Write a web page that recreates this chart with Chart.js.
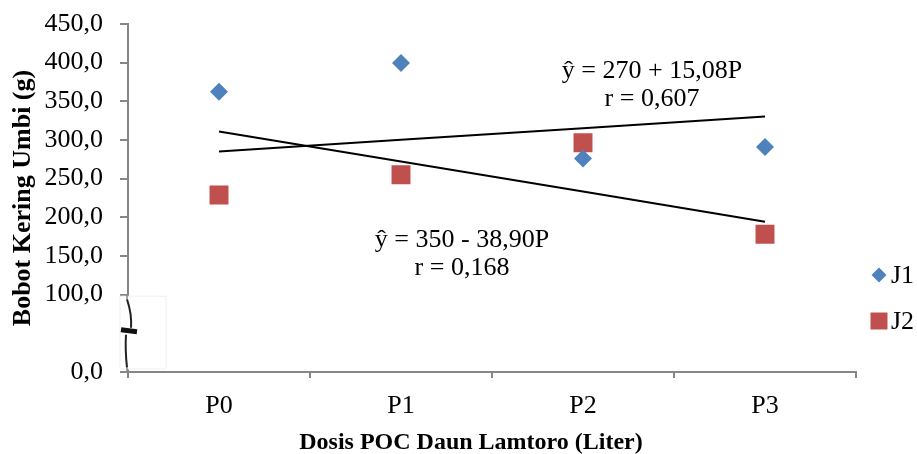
<!DOCTYPE html>
<html>
<head>
<meta charset="utf-8">
<script src="https://cdn.jsdelivr.net/npm/chart.js@4.4.0/dist/chart.umd.min.js"></script>
<style>
  html, body { margin: 0; padding: 0; background: #fff; }
  #wrap { width: 917px; height: 454px; }
</style>
</head>
<body>
<div id="wrap"><canvas id="bobotChart"></canvas></div>
<script>
// data
const doses = ["P0", "P1", "P2", "P3"];
const j1Values = [362.5, 399.5, 276.0, 291.0];
const j2Values = [229.0, 255.0, 296.5, 178.0];
// regression lines (values at P0..P3)
const trendJ1 = [285.1, 300.2, 315.2, 330.3];
const trendJ2 = [311.1, 272.2, 233.3, 194.4];
const yTicks = [0, 100, 150, 200, 250, 300, 350, 400, 450];

const serif = "'Liberation Serif', 'Times New Roman', serif";
const axisGray = "#868686";

// draws equations, x title, custom legend and the axis break mark
const extras = {
  id: "extras",
  afterDraw(chart) {
    const { ctx, chartArea, scales } = chart;
    const x = scales.x, y = scales.y;
    ctx.save();

    // axis break between 0 and 100
    const bx = chartArea.left;
    const by = y.getPixelForValue(52);
    const top = y.getPixelForValue(98), bot = y.getPixelForValue(4);
    ctx.fillStyle = "#fff";
    ctx.fillRect(bx - 8, top, 46, bot - top);
    ctx.strokeStyle = "#f0f0f0";
    ctx.lineWidth = 1;
    ctx.strokeRect(bx - 8, top, 46, bot - top);
    ctx.strokeStyle = "#888";
    ctx.lineWidth = 1.5;
    ctx.beginPath();
    ctx.moveTo(bx - 1, y.getPixelForValue(100));
    ctx.lineTo(bx - 1, y.getPixelForValue(94));
    ctx.moveTo(bx - 1, y.getPixelForValue(6));
    ctx.lineTo(bx - 1, y.getPixelForValue(0));
    ctx.stroke();
    ctx.strokeStyle = "#222";
    ctx.lineWidth = 2;
    ctx.beginPath();
    ctx.moveTo(bx - 1, y.getPixelForValue(94));
    ctx.quadraticCurveTo(bx + 4, by - 18, bx + 3, by - 4);
    ctx.stroke();
    ctx.strokeStyle = "#111";
    ctx.lineWidth = 5;
    ctx.beginPath();
    ctx.moveTo(bx - 7, by - 2);
    ctx.lineTo(bx + 9, by);
    ctx.stroke();
    ctx.strokeStyle = "#222";
    ctx.lineWidth = 2;
    ctx.beginPath();
    ctx.moveTo(bx - 2, by + 3);
    ctx.quadraticCurveTo(bx - 3, by + 18, bx - 1, y.getPixelForValue(6));
    ctx.stroke();

    // equations
    ctx.fillStyle = "#000";
    ctx.font = "26px " + serif;
    ctx.textAlign = "center";
    ctx.textBaseline = "middle";
    const c1 = (x.getPixelForValue(2) + x.getPixelForValue(3)) / 2 - 22;
    const c2 = (x.getPixelForValue(1) + x.getPixelForValue(2)) / 2 - 30;
    ctx.fillText("\u0177 = 270 + 15,08P", c1, y.getPixelForValue(389));
    ctx.fillText("r = 0,607", c1, y.getPixelForValue(353));
    ctx.fillText("\u0177 = 350 - 38,90P", c2, y.getPixelForValue(170));
    ctx.fillText("r = 0,168", c2, y.getPixelForValue(134));

    // x axis title
    ctx.font = "bold 24px " + serif;
    ctx.fillText("Dosis POC Daun Lamtoro (Liter)", (chartArea.left + chartArea.right) / 2 - 21, chartArea.bottom + 71);

    // legend
    const lx = chartArea.right + 23;
    const items = [
      { ds: chart.data.datasets[0], label: "J1", yy: 275 },
      { ds: chart.data.datasets[1], label: "J2", yy: 321 }
    ];
    ctx.font = "26px " + serif;
    ctx.textAlign = "left";
    items.forEach(it => {
      ctx.fillStyle = it.ds.backgroundColor;
      ctx.strokeStyle = it.ds.backgroundColor;
      Chart.helpers.drawPoint(ctx, { pointStyle: it.ds.pointStyle, radius: it.ds.pointStyle === "rect" ? 12 : 7.5, borderWidth: 0 }, lx, it.yy);
      ctx.fillStyle = "#000";
      ctx.fillText(it.label, lx + 12, it.yy + 1);
    });
    ctx.restore();
  }
};

const ctx = document.getElementById("bobotChart").getContext("2d");
const bobotChart = new Chart(ctx, {
  type: "line",
  data: {
    labels: doses,
    datasets: [
      {
        label: "J1",
        data: j1Values,
        showLine: false,
        pointStyle: "rectRot",
        pointRadius: 9,
        pointHoverRadius: 9,
        backgroundColor: "#4F81BD",
        borderColor: "#4F81BD",
        borderWidth: 0,
      },
      {
        label: "J2",
        data: j2Values,
        showLine: false,
        pointStyle: "rect",
        pointRadius: 13.4,
        pointHoverRadius: 13.4,
        backgroundColor: "#C0504D",
        borderColor: "#C0504D",
        borderWidth: 0,
      },
      {
        label: "trend J1",
        data: trendJ1,
        borderColor: "#000",
        borderWidth: 2,
        pointRadius: 0,
        fill: false,
        tension: 0,
      },
      {
        label: "trend J2",
        data: trendJ2,
        borderColor: "#000",
        borderWidth: 2,
        pointRadius: 0,
        fill: false,
        tension: 0,
      },
    ],
  },
  options: {
    responsive: true,
    maintainAspectRatio: false,
    animation: false,
    layout: { padding: { top: 24, right: 61, bottom: 0, left: 0 } },
    plugins: {
      legend: { display: false },
      tooltip: { enabled: false },
    },
    scales: {
      x: {
        offset: true,
        grid: {
          offset: true,
          drawOnChartArea: false,
          color: axisGray,
          tickLength: 6,
          lineWidth: 2,
        },
        border: { color: axisGray, width: 2 },
        ticks: { color: "#000", font: { family: serif, size: 26 }, padding: 13 },
        title: { display: false },
        afterFit(scale) { scale.height = 82; },
      },
      y: {
        min: 0,
        max: 450,
        afterBuildTicks(scale) { scale.ticks = yTicks.map(v => ({ value: v })); },
        grid: {
          drawOnChartArea: false,
          color: axisGray,
          tickLength: 8,
          lineWidth: 2,
        },
        border: { color: axisGray, width: 2 },
        ticks: {
          color: "#000",
          font: { family: serif, size: 26 },
          padding: 17,
          callback: v => v.toFixed(1).replace(".", ","),
        },
        title: {
          display: true,
          text: "Bobot Kering Umbi (g)",
          color: "#000",
          font: { family: serif, size: 26, weight: "bold" },
          padding: { top: 8, bottom: 0 },
        },
        afterFit(scale) {
          scale.width = 128;
          scale.paddingTop = 0;
          scale.paddingBottom = 0;
        },
      },
    },
  },
  plugins: [extras],
});
</script>
</body>
</html>
